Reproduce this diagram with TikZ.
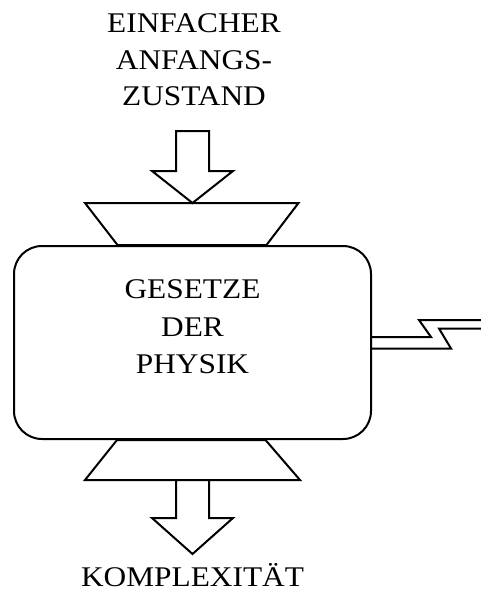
\documentclass[tikz,border=0pt]{standalone}
\usepackage{fontspec}
\setmainfont{Liberation Serif}[FakeStretch=1.1]
\usetikzlibrary{calc, positioning}

\begin{document}
\begin{tikzpicture}[x=1pt, y=-1pt, line width=2pt,
   wording/.style = {font=\fontsize{28.5}{36.5}\selectfont, inner sep=0pt, align=center},
   hollow/.style = {draw, fill=white}]
   \useasboundingbox (0,0) rectangle (481,592);

   \node[draw, rounded corners=28pt, minimum width=357pt, minimum height=193pt,
         inner sep=0pt] (laws) at (192.5,342.5) {};
   \node[wording, anchor=north, font=\fontsize{28.5}{37.5}\selectfont]
         (gesetze) at ($(laws.north)+(0,34)$) {GESETZE\\DER\\PHYSIK};

   % input from above
   \coordinate (intip) at ($(laws.north)+(0,-42)$);
   \draw[hollow] ($(laws.north)+(-75,0)$) -- ($(intip)+(-107.5,0)$)
      -- ($(intip)+(106,0)$) -- ($(laws.north)+(74,0)$) -- cycle;
   \draw[hollow] (intip) -- ++(-40.5,-32) -- ++(24,0) -- ++(0,-40)
      -- ++(33,0) -- ++(0,40) -- ++(24,0) -- cycle;
   \node[wording, anchor=north] (anfang) at (194,13) {EINFACHER\\ANFANGS-\\ZUSTAND};

   % output below
   \coordinate (outtip) at ($(laws.south)+(0,114)$);
   \draw[hollow] ($(laws.south)+(-75.5,0)$) -- ($(laws.south)+(-107.5,40)$)
      -- ($(laws.south)+(107.5,40)$) -- ($(laws.south)+(73,0)$) -- cycle;
   \draw[hollow] (outtip) -- ++(-40.5,-36) -- ++(24,0) -- ++(0,-38)
      -- ++(33,0) -- ++(0,38) -- ++(24,0) -- cycle;
   \node[wording, anchor=base, text depth=0pt] (komplex) at ($(outtip)+(0,32)$) {KOMPLEXITÄT};

   % lead to the right
   \draw ($(laws.east)+(0,-5.5)$) -- ++(59,0) -- ++(-12,-17) -- ++(63,0);
   \draw ($(laws.east)+(0,6)$) -- ++(79,0) -- ++(-12,-20) -- ++(43,0);
\end{tikzpicture}
\end{document}
